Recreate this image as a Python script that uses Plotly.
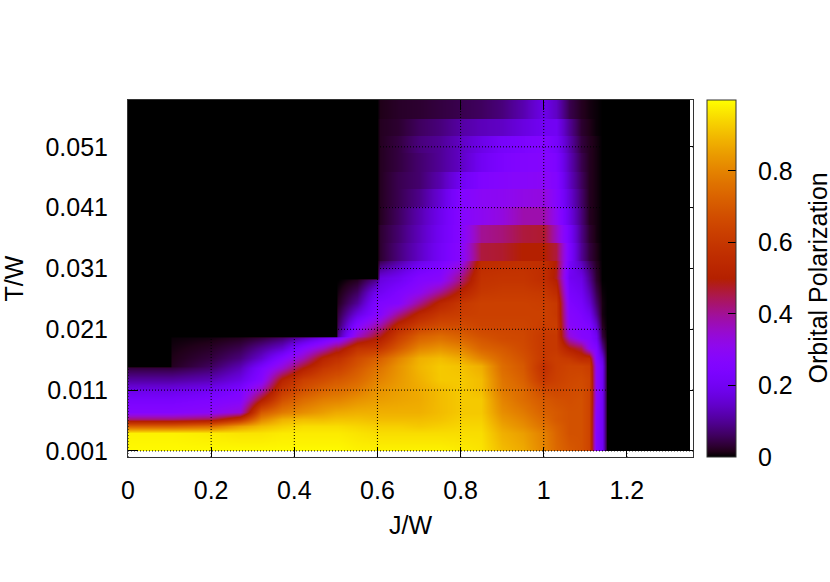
import math
import plotly.graph_objects as go

J_VALUES = [0, 0.1, 0.105, 0.2, 0.27, 0.32, 0.37, 0.42, 0.47, 0.5, 0.505, 0.55, 0.6, 0.605, 0.65, 0.7, 0.75, 0.8,
            0.85, 0.9, 0.95, 1.0, 1.03, 1.06, 1.09, 1.11, 1.125, 1.14, 1.152, 1.345, 1.35]
T_VALUES = [0.05857, 0.05570, 0.05560, 0.05286, 0.05276, 0.05006, 0.04996, 0.04694, 0.04684, 0.04414,
            0.04404, 0.04118, 0.04108, 0.03822, 0.03812, 0.03526, 0.03516, 0.03230, 0.03220,
            0.02945, 0.02913, 0.02715, 0.02534, 0.02353, 0.02172, 0.01991, 0.01959, 0.01794, 0.01630,
            0.01498, 0.01465, 0.01268, 0.01103, 0.00939, 0.00741, 0.00626, 0.00511, 0.00396, 0.00116, 0.00100]
D = [0] * 13
TOP_BANDS = [
    D + [.015, .025, .03, .04, .05, .06, .08, .12, .18, .14, .05, .02, .01, .005, 0, 0, 0, 0],
    D + [.02, .03, .06, .08, .11, .13, .14, .17, .2, .2, .1, .03, .015, .005, 0, 0, 0, 0],
    D + [.02, .04, .08, .1, .14, .18, .22, .24, .26, .22, .12, .04, .02, .01, 0, 0, 0, 0],
    D + [.02, .04, .07, .1, .14, .2, .24, .26, .27, .24, .13, .05, .02, .01, 0, 0, 0, 0],
    D + [.02, .05, .07, .12, .2, .25, .27, .28, .29, .26, .14, .06, .02, .01, 0, 0, 0, 0],
    D + [.02, .05, .09, .16, .26, .29, .3, .32, .33, .27, .16, .07, .02, .01, 0, 0, 0, 0],
    D + [.02, .06, .12, .19, .27, .3, .33, .38, .38, .3, .18, .08, .02, .01, 0, 0, 0, 0],
    D + [.03, .07, .13, .2, .27, .4, .42, .46, .47, .36, .22, .09, .03, .01, 0, 0, 0, 0],
    D + [.03, .08, .14, .21, .28, .46, .47, .5, .5, .46, .24, .1, .04, .015, 0, 0, 0, 0],
]
LOWER_ROWS = [
    D + [.05, .11, .18, .23, .3, .55, .56, .57, .56, .49, .22, .13, .06, .02, 0, 0, 0, 0],
    D + [.17, .2, .26, .28, .42, .58, .59, .59, .56, .48, .2, .18, .1, .03, 0, 0, 0, 0],
    [0] * 11 + [.02, .1, .17, .2, .26, .28, .42, .58, .59, .59, .56, .5, .21, .18, .1, .03, 0, 0, 0, 0],
    [0] * 10 + [.01, .06, .2, .2, .25, .3, .4, .52, .6, .61, .61, .6, .55, .23, .2, .13, .05, .005, 0, 0, 0],
    [0] * 10 + [.02, .1, .25, .25, .27, .4, .53, .6, .63, .63, .63, .62, .6, .25, .22, .16, .07, .01, 0, 0, 0],
    [0] * 10 + [.04, .17, .27, .27, .4, .53, .6, .62, .63, .63, .63, .63, .6, .27, .24, .2, .1, .01, 0, 0, 0],
    [0] * 10 + [.06, .26, .38, .38, .53, .62, .66, .66, .64, .64, .64, .62, .62, .28, .26, .24, .15, .02, 0, 0, 0],
    [0] * 10 + [.1, .35, .48, .48, .62, .72, .75, .72, .68, .66, .65, .6, .6, .33, .27, .26, .2, .04, 0, 0, 0],
    [0, 0, .005, .01, .02, .04, .07, .13, .2, .25, .25, .42, .5, .5, .63, .73, .76, .73, .69, .66, .65, .6, .6, .36, .28, .26, .2, .05, 0, 0, 0],
    [0, 0, .01, .025, .05, .1, .15, .27, .36, .45, .45, .58, .6, .6, .7, .8, .83, .8, .73, .7, .66, .6, .6, .5, .45, .3, .25, .1, 0, 0, 0],
    [0, 0, .015, .04, .08, .15, .26, .37, .52, .57, .57, .66, .72, .72, .8, .88, .9, .87, .8, .73, .68, .6, .62, .6, .55, .55, .27, .17, 0, 0, 0],
    [0, 0, .02, .06, .12, .22, .33, .47, .58, .62, .62, .69, .76, .76, .83, .89, .92, .91, .88, .75, .7, .57, .62, .64, .64, .62, .3, .2, 0, 0, 0],
    [.04, .04, .04, .07, .13, .24, .35, .5, .6, .63, .63, .7, .77, .77, .83, .89, .92, .91, .88, .75, .7, .57, .62, .64, .64, .62, .3, .2, 0, 0, 0],
    [.11, .11, .11, .13, .18, .27, .52, .63, .67, .7, .7, .74, .8, .8, .84, .88, .92, .92, .9, .77, .72, .6, .63, .65, .66, .64, .3, .2, 0, 0, 0],
    [.18, .18, .18, .2, .24, .37, .6, .68, .73, .75, .75, .78, .83, .83, .85, .87, .9, .92, .9, .78, .74, .66, .65, .66, .67, .64, .3, .2, 0, 0, 0],
    [.23, .23, .23, .25, .27, .5, .68, .75, .79, .8, .8, .83, .85, .85, .86, .87, .9, .92, .92, .8, .75, .7, .68, .67, .68, .64, .3, .2, 0, 0, 0],
    [.27, .27, .27, .29, .34, .7, .78, .82, .85, .87, .87, .88, .88, .88, .88, .88, .9, .92, .92, .82, .78, .72, .7, .68, .68, .64, .28, .2, 0, 0, 0],
    [.42, .42, .42, .45, .58, .8, .88, .9, .9, .91, .91, .91, .9, .9, .9, .9, .91, .93, .93, .84, .8, .74, .7, .68, .68, .64, .27, .2, 0, 0, 0],
    [.72, .72, .72, .75, .85, .9, .93, .95, .95, .95, .95, .94, .93, .93, .93, .92, .93, .94, .94, .86, .82, .76, .72, .68, .68, .64, .27, .2, 0, 0, 0],
    [.98, .98, .98, .97, .96, .96, .97, .97, .97, .97, .97, .96, .95, .95, .95, .95, .95, .95, .95, .88, .85, .79, .73, .68, .68, .64, .26, .2, 0, 0, 0],
    [.99, .99, .99, .99, .99, .99, .99, .99, .99, .99, .99, .98, .98, .98, .98, .98, .98, .97, .96, .9, .87, .8, .74, .7, .68, .64, .26, .2, 0, 0, 0],
    [.99, .99, .99, .99, .99, .99, .99, .99, .99, .99, .99, .98, .98, .98, .98, .98, .98, .97, .96, .9, .87, .8, .74, .7, .68, .64, .26, .2, 0, 0, 0],
]
POLARIZATION = [row for row in TOP_BANDS for _ in (0, 1)] + LOWER_ROWS
X_TICKS = [0, 0.2, 0.4, 0.6, 0.8, 1, 1.2]
Y_TICKS = [0.001, 0.011, 0.021, 0.031, 0.041, 0.051]
Y_LABELS = ["0.001", "0.011", "0.021", "0.031", "0.041", "0.051"]
CB_TICKS = [0, 0.2, 0.4, 0.6, 0.8]
CB_LABELS = ["0", "0.2", "0.4", "0.6", "0.8"]
Z_MAX = 0.997

FONT = "Liberation Sans"
SIZE = 25
W, H = 830, 582
L, R, T, B = 128, 693, 100, 457
BAR_L = 707
BAR_R = 736


def palette():
    stops = []
    for i in range(65):
        v = i / 64
        r = math.sqrt(v)
        g = v ** 3
        b = max(0.0, math.sin(2 * math.pi * v))
        stops.append([v, f"rgb({round(255*r)},{round(255*g)},{round(255*b)})"])
    return stops


fig = go.Figure(go.Heatmap(
    x=J_VALUES, y=T_VALUES, z=POLARIZATION, zmin=0, zmax=Z_MAX, zsmooth="best",
    colorscale=palette(), hoverinfo="skip",
    colorbar=dict(
        x=(BAR_L - L) / (R - L), xanchor="left", xpad=0, y=0.5, yanchor="middle", ypad=0,
        len=1, lenmode="fraction", thickness=BAR_R - BAR_L, thicknessmode="pixels",
        outlinecolor="#333", outlinewidth=1,
        tickmode="array", tickvals=CB_TICKS, ticks="inside", ticklen=8, tickcolor="black", tickwidth=1,
        showticklabels=False,
    ),
))

shapes = []
for v in X_TICKS:
    shapes.append(dict(type="line", layer="above", xref="x", yref="paper", x0=v, x1=v, y0=0, y1=1,
                       line=dict(color="black", width=1, dash="1px,2px")))
for v in Y_TICKS:
    shapes.append(dict(type="line", layer="above", xref="paper", yref="y", x0=0, x1=1, y0=v, y1=v,
                       line=dict(color="black", width=1, dash="1px,2px")))

annotations = [
    dict(text="Orbital Polarization", xref="paper", yref="paper", x=(817 - L) / (R - L), y=0.5, showarrow=False,
         xanchor="center", yanchor="middle",
         textangle=-90, font=dict(family=FONT, size=SIZE, color="black")),
]
for v, lab in zip(CB_TICKS, CB_LABELS):
    annotations.append(dict(text=lab, xref="paper", yref="paper", x=(756 - L) / (R - L), y=v / Z_MAX,
                            xanchor="left", yanchor="middle", showarrow=False,
                            font=dict(family=FONT, size=SIZE, color="black")))

fig.update_layout(
    width=W, height=H, margin=dict(l=L, r=W - R, t=T, b=H - B, pad=0, autoexpand=False),
    paper_bgcolor="white", plot_bgcolor="white",
    font=dict(family=FONT, size=SIZE, color="black"),
    shapes=shapes, annotations=annotations,
    xaxis=dict(range=[0, 1.359], tickmode="array", tickvals=X_TICKS, ticktext=[str(v) for v in X_TICKS],
               ticks="inside", ticklen=10, tickwidth=1, tickcolor="black", showgrid=False, zeroline=False,
               showline=True, linecolor="#333", linewidth=1, mirror="allticks", ticklabelstandoff=11,
               title=dict(text="J/W", standoff=13, font=dict(family=FONT, size=SIZE))),
    yaxis=dict(range=[0, 0.0587], tickmode="array", tickvals=Y_TICKS, ticktext=Y_LABELS,
               ticks="inside", ticklen=10, tickwidth=1, tickcolor="black", showgrid=False, zeroline=False,
               showline=True, linecolor="#333", linewidth=1, mirror="allticks", ticklabelstandoff=14,
               title=dict(text="T/W", standoff=34, font=dict(family=FONT, size=SIZE))),
)
fig.write_html("out.html", config={"displayModeBar": False},
               post_script="document.body.style.margin='0';")
